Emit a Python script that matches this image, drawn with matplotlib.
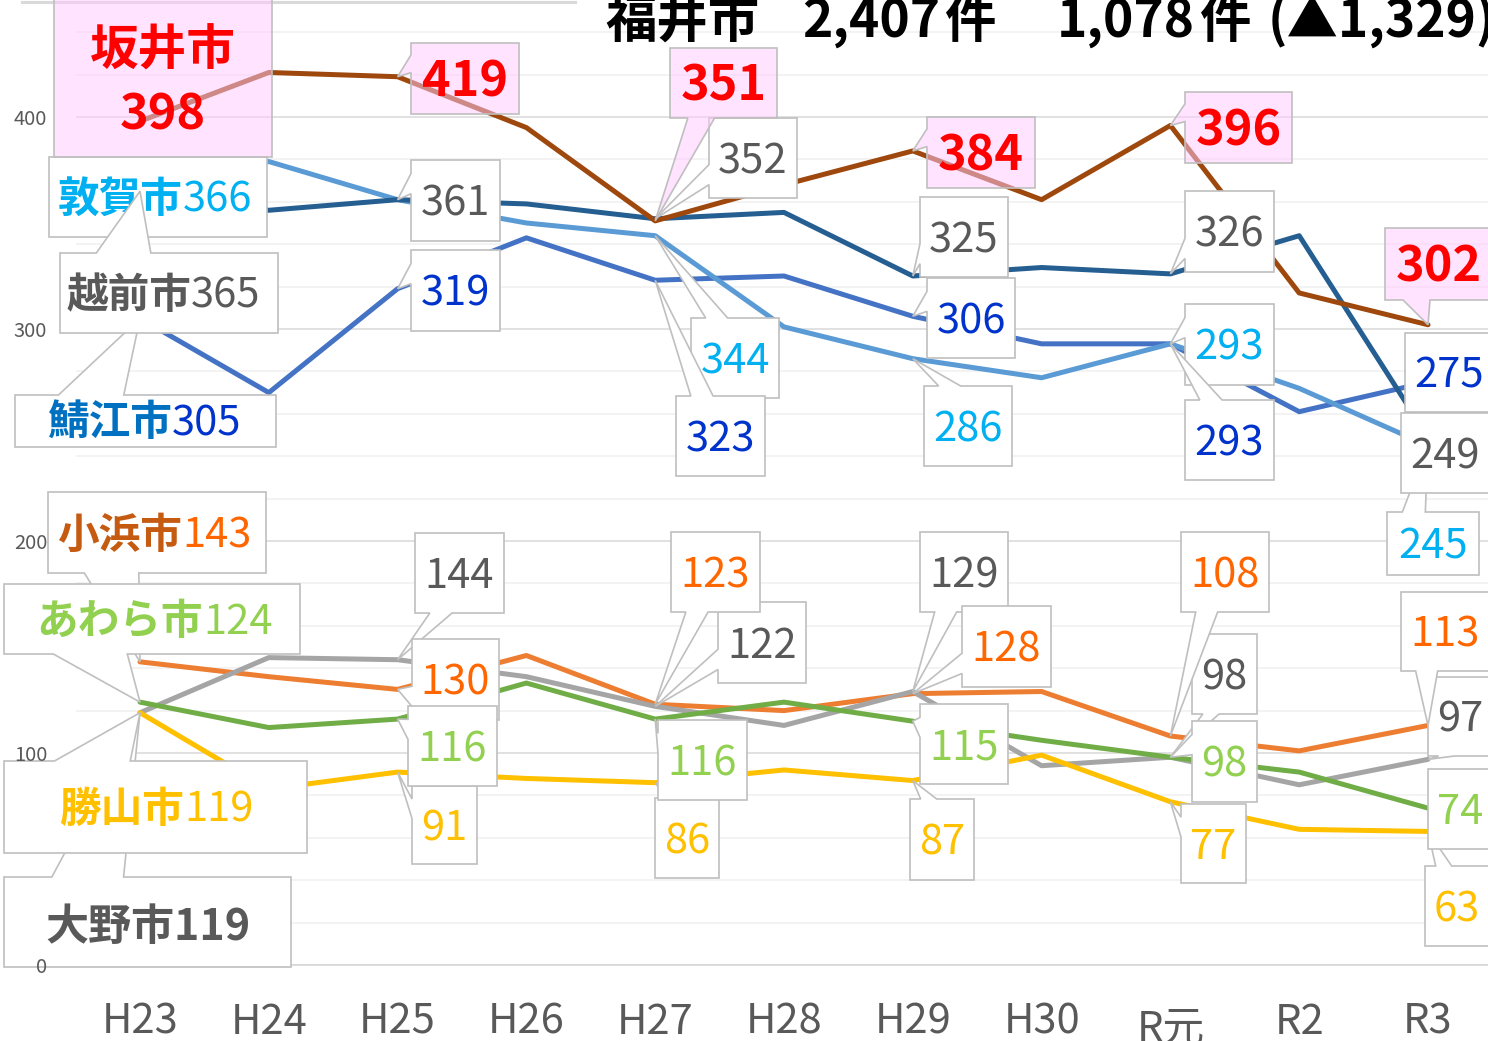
import matplotlib
matplotlib.use('Agg')
import matplotlib.pyplot as plt
from matplotlib.patches import Polygon
from matplotlib.lines import Line2D
from matplotlib.transforms import IdentityTransform
from matplotlib.ticker import MultipleLocator

# ---------------- data ----------------
years = ['H23', 'H24', 'H25', 'H26', 'H27', 'H28', 'H29', 'H30', 'R元', 'R2', 'R3']
sakai     = [398, 421, 419, 395, 351, 368, 384, 361, 396, 317, 302]
echizen   = [365, 356, 361, 359, 352, 355, 325, 329, 326, 344, 249]
tsuruga   = [366, 379, 361, 350, 344, 301, 286, 277, 293, 272, 245]
sabae     = [305, 270, 319, 343, 323, 325, 306, 293, 293, 261, 275]
obama     = [143, 136, 130, 146, 123, 120, 128, 129, 108, 101, 113]
awara     = [124, 112, 116, 133, 116, 124, 115, 106, 98, 91, 74]
katsuyama = [119, 83, 91, 88, 86, 92, 87, 99, 77, 64, 63]
ono       = [119, 145, 144, 136, 122, 113, 129, 94, 98, 85, 97]
title_parts = ['福井市', '2,407', '件', '1,078', '件', '(▲1,329)']

# ---------------- styles ----------------
series = {
    '鯖江市': (sabae, '#4472C4'),
    '小浜市': (obama, '#ED7D31'),
    '大野市': (ono, '#A5A5A5'),
    '勝山市': (katsuyama, '#FFC000'),
    '敦賀市': (tsuruga, '#5B9BD5'),
    'あわら市': (awara, '#70AD47'),
    '越前市': (echizen, '#255E91'),
    '坂井市': (sakai, '#9E480E'),
}
name_color = {'坂井市': '#FF0000', '敦賀市': '#00B0F0', '越前市': '#595959', '鯖江市': '#0070C0',
              '小浜市': '#C55A11', 'あわら市': '#92D050', '勝山市': '#FFC000', '大野市': '#595959'}
num_color = {'坂井市': '#FF0000', '敦賀市': '#00B0F0', '越前市': '#595959', '鯖江市': '#0033CC',
             '小浜市': '#FF6600', 'あわら市': '#92D050', '勝山市': '#FFC000', '大野市': '#595959'}
label_rank = {'敦賀市': 0, '鯖江市': 1, '越前市': 2, '坂井市': 3,
              '大野市': 0, '小浜市': 1, '勝山市': 2, 'あわら市': 3}
PINK = (1.0, 200 / 255, 1.0, 0.5)
EDGE = '#BFBFBF'

# label layout (image pixels: left, top, right, bottom)
value_labels = [
    ('坂井市', 2, (411, 43, 519, 114)), ('越前市', 2, (411, 160, 500, 241)),
    ('鯖江市', 2, (411, 250, 500, 331)),
    ('坂井市', 4, (670, 48, 777, 118)), ('越前市', 4, (709, 118, 797, 198)),
    ('敦賀市', 4, (691, 318, 779, 398)), ('鯖江市', 4, (676, 396, 765, 476)),
    ('坂井市', 6, (927, 117, 1035, 188)), ('越前市', 6, (920, 197, 1008, 277)),
    ('鯖江市', 6, (927, 278, 1015, 358)), ('敦賀市', 6, (924, 386, 1012, 466)),
    ('坂井市', 8, (1185, 92, 1292, 163)), ('越前市', 8, (1185, 191, 1274, 272)),
    ('敦賀市', 8, (1185, 304, 1274, 385)), ('鯖江市', 8, (1185, 400, 1274, 480)),
    ('坂井市', 10, (1385, 228, 1493, 300)), ('鯖江市', 10, (1405, 333, 1493, 412)),
    ('越前市', 10, (1401, 413, 1489, 493)), ('敦賀市', 10, (1387, 512, 1479, 575)),
    ('大野市', 2, (415, 533, 504, 613)), ('小浜市', 2, (412, 639, 499, 720)),
    ('あわら市', 2, (408, 706, 497, 786)), ('勝山市', 2, (412, 786, 477, 864)),
    ('小浜市', 4, (671, 532, 760, 612)), ('大野市', 4, (718, 602, 806, 683)),
    ('あわら市', 4, (658, 720, 747, 800)), ('勝山市', 4, (655, 798, 719, 878)),
    ('大野市', 6, (920, 532, 1008, 612)), ('小浜市', 6, (962, 606, 1051, 687)),
    ('あわら市', 6, (920, 704, 1008, 784)), ('勝山市', 6, (910, 799, 974, 880)),
    ('小浜市', 8, (1181, 532, 1269, 612)), ('大野市', 8, (1192, 634, 1257, 714)),
    ('あわら市', 8, (1192, 721, 1257, 802)), ('勝山市', 8, (1181, 804, 1246, 883)),
    ('小浜市', 10, (1401, 592, 1489, 671)), ('大野市', 10, (1428, 677, 1492, 756)),
    ('あわら市', 10, (1428, 769, 1492, 849)), ('勝山市', 10, (1425, 866, 1489, 946)),
]
# name labels at first category: (series, box, split x, baseline y)
name_labels = [
    ('敦賀市', (49, 157, 267, 237), 183, 212),
    ('鯖江市', (15, 395, 276, 447), 172, 435),
    ('越前市', (60, 253, 278, 333), 191, 308),
    ('大野市', (4, 877, 291, 967), 148, 940),
    ('小浜市', (48, 492, 266, 573), 182, 548),
    ('勝山市', (4, 761, 307, 853), 184, 822),
    ('あわら市', (4, 584, 300, 654), 203, 634),
]
sakai_name_box = (54, -6, 272, 157)

plt.rcParams['font.family'] = ['Noto Sans CJK JP', 'DejaVu Sans']

W, H, DPI = 1488, 1041, 100
fig = plt.figure(figsize=(W / DPI, H / DPI), dpi=DPI)
fig.patch.set_facecolor('white')

X0, DX, Y0, PXU, YMAX = 140, 128.8, 965, 2.12, 460
left_px = X0 - 0.5 * DX
right_px = X0 + 10.5 * DX
pos = [left_px / W, (H - Y0) / H, (right_px - left_px) / W, YMAX * PXU / H]
ax = fig.add_axes(pos)
ax.set_xlim(-0.5, 10.5)
ax.set_ylim(0, YMAX)
for s in ax.spines.values():
    s.set_visible(False)
ax.set_yticks([0, 100, 200, 300, 400])
ax.yaxis.set_minor_locator(MultipleLocator(20))
ax.grid(which='major', axis='y', color='#D9D9D9', lw=1.1)
ax.grid(which='minor', axis='y', color='#F0F0F0', lw=1.1)
ax.axhline(0, color='#D9D9D9', lw=1.3, clip_on=False, zorder=1)
ax.tick_params(axis='y', which='both', length=0, labelleft=False)
ax.set_xticks(range(len(years)), years)
ax.tick_params(axis='x', length=0, labelsize=30, labelcolor='#595959', pad=49.5)
for lbl in ax.get_xticklabels():
    lbl.set_verticalalignment('baseline')
    if lbl.get_text() == 'R元':
        lbl.set_y(-7 / (YMAX * PXU))
ax.set_axisbelow(True)

# overlay axes that only carries the value-axis labels (drawn above the callouts)
ax2 = fig.add_axes(pos, sharey=ax, zorder=500, frameon=False)
ax2.patch.set_visible(False)
ax2.set_xticks([])
ax2.tick_params(axis='y', which='both', length=0, labelsize=14.5, labelcolor='#595959', pad=20.5)

xs = list(range(len(years)))
for name, (vals, col) in series.items():
    ax.plot(xs, vals, color=col, lw=3.6, solid_joinstyle='round', solid_capstyle='round', zorder=2)

# top-left border line
fig.add_artist(Line2D([22, 575], [H - 1.5, H - 1.5], transform=IdentityTransform(),
                      color='#D9D9D9', lw=2.2, zorder=1))


def tip_of(name, i):
    d = ax.transData.transform((i, series[name][0][i]))
    return d[0], H - d[1]


def shape(box, tip):
    l, t, r, b = box
    tx, ty = tip
    w, h = r - l, b - t
    hc, vc = (l + r) / 2, (t + b) / 2
    if l <= tx <= r and t <= ty <= b:
        return [(l, t), (r, t), (r, b), (l, b)]
    dx, dy = tx - hc, ty - vc
    dq = dx * h / w
    if abs(dy) - abs(dq) > 0:
        a1, a2 = (7, 10) if dx > 0 else (2, 5)
        x1, x2 = l + w * a1 / 12, l + w * a2 / 12
        if dy < 0:
            return [(l, t), (x1, t), (tx, ty), (x2, t), (r, t), (r, b), (l, b)]
        return [(l, t), (r, t), (r, b), (x2, b), (tx, ty), (x1, b), (l, b)]
    a1, a2 = (7, 10) if dy > 0 else (2, 5)
    y1, y2 = t + h * a1 / 12, t + h * a2 / 12
    if dx < 0:
        return [(l, t), (r, t), (r, b), (l, b), (l, y2), (tx, ty), (l, y1)]
    return [(l, t), (r, t), (r, y1), (tx, ty), (r, y2), (r, b), (l, b)]


def draw_box(box, tip, fc, z):
    pts = [(x, H - y) for x, y in shape(box, tip)]
    fig.add_artist(Polygon(pts, closed=True, transform=IdentityTransform(), fc=fc,
                           ec=EDGE, lw=1.2, joinstyle='miter', zorder=z))


def ftext(x, y, s, **kw):
    fig.text(x / W, 1 - y / H, s, va='baseline', **kw)


def cap(size):
    return 0.733 * size * DPI / 72


Z = 10
order = []
for name, box, sx, by in name_labels:
    order.append((label_rank[name], 'name', (name, box, sx, by)))
order.append((label_rank['坂井市'], 'sakai', None))
for name, i, box in value_labels:
    order.append((label_rank[name], 'val', (name, i, box)))
order.sort(key=lambda o: o[0])

for rank, kind, item in order:
    Z += 2
    if kind == 'sakai':
        draw_box(sakai_name_box, tip_of('坂井市', 0), PINK, Z)
        cx = (sakai_name_box[0] + sakai_name_box[2]) / 2
        ftext(cx, 66, '坂井市', fontsize=35, fontweight='bold', color='#FF0000', ha='center', zorder=Z + 1)
        ftext(cx, 130, str(sakai[0]), fontsize=35, fontweight='bold', color='#FF0000', ha='center', zorder=Z + 1)
    elif kind == 'name':
        name, box, sx, by = item
        draw_box(box, tip_of(name, 0), 'white', Z)
        v = series[name][0][0]
        if name == '大野市':
            ftext(sx, by, f'{name}{v}', fontsize=31, fontweight='bold', color=name_color[name],
                  ha='center', zorder=Z + 1)
        else:
            ftext(sx, by, name, fontsize=30, fontweight='bold', color=name_color[name], ha='right', zorder=Z + 1)
            ftext(sx, by, str(v), fontsize=30, color=num_color[name], ha='left', zorder=Z + 1)
    else:
        name, i, box = item
        v = series[name][0][i]
        cx, cy = (box[0] + box[2]) / 2, (box[1] + box[3]) / 2
        if name == '坂井市':
            draw_box(box, tip_of(name, i), PINK, Z)
            ftext(cx, cy + cap(35) / 2, str(v), fontsize=35, fontweight='bold', color='#FF0000',
                  ha='center', zorder=Z + 1)
        else:
            draw_box(box, tip_of(name, i), 'white', Z)
            ftext(cx, cy + cap(30) / 2, str(v), fontsize=30, color=num_color[name],
                  ha='center', zorder=Z + 1)

# title (cropped at the top/right edge, as in the reference)
title_x = [605, 802, 944, 1057, 1199, 1268]
for s, x in zip(title_parts, title_x):
    ftext(x, 37, s, fontsize=37, fontweight='bold', color='black', ha='left', zorder=200)

fig.savefig('out.png', dpi=DPI, facecolor='white')
